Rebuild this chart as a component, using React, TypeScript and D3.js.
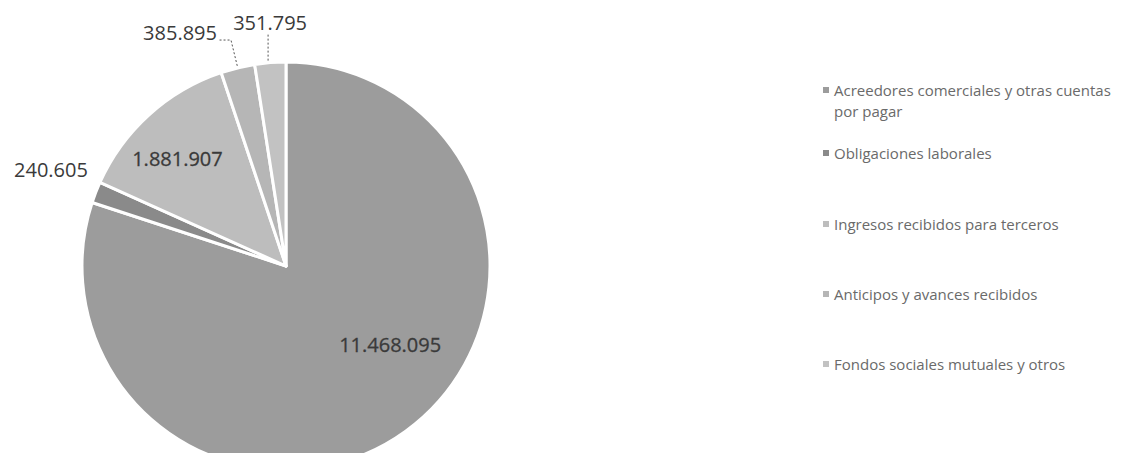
import React from "react";
import * as d3 from "d3";

const categories = [
  "Acreedores comerciales y otras cuentas por pagar",
  "Obligaciones laborales",
  "Ingresos recibidos para terceros",
  "Anticipos y avances recibidos",
  "Fondos sociales mutuales y otros",
];
const legendLines = [
  ["Acreedores comerciales y otras cuentas", "por pagar"],
  ["Obligaciones laborales"],
  ["Ingresos recibidos para terceros"],
  ["Anticipos y avances recibidos"],
  ["Fondos sociales mutuales y otros"],
];
const values = [11468095, 240605, 1881907, 385895, 351795];
const valueLabels = ["11.468.095", "240.605", "1.881.907", "385.895", "351.795"];
const colors = ["#9c9c9c", "#8a8a8a", "#bdbdbd", "#b6b6b6", "#c2c2c2"];

// label placement: kind, radius factor, angle shift (deg)
const labelPlacement = [
  { kind: "inside", r: 0.64, da: -17 },
  { kind: "outsideLeft", r: 1.2, da: 2 },
  { kind: "inside", r: 0.75, da: -3 },
  { kind: "leaderLeft", r: 1.14, da: 0 },
  { kind: "leaderUp", r: 1.14, da: 0 },
];

const W = 1130;
const H = 453;
const cx = 286;
const cy = 266;
const R = 204;

function polar(angle: number, r: number): [number, number] {
  return [cx + r * Math.sin(angle), cy - r * Math.cos(angle)];
}

export default function App() {
  const pie = d3.pie<number>().sort(null).value((d) => d);
  const arcs = pie(values);
  const arc = d3.arc<d3.PieArcDatum<number>>().innerRadius(0).outerRadius(R);
  const fmtFont = "'Open Sans', 'DejaVu Sans', sans-serif";

  return (
    <svg
      width={W}
      height={H}
      style={{ position: "absolute", left: 0, top: 0, background: "#fff" }}
      fontFamily={fmtFont}
    >
      <g>
        {arcs.map((a, i) => (
          <path
            key={i}
            d={arc(a) || ""}
            transform={`translate(${cx},${cy})`}
            fill={colors[i]}
            stroke="#ffffff"
            strokeWidth={3}
            strokeLinejoin="round"
          />
        ))}
      </g>
      <g>
        {arcs.map((a, i) => {
          const p = labelPlacement[i];
          const mid = (a.startAngle + a.endAngle) / 2;
          const ang = mid + (p.da * Math.PI) / 180;
          if (p.kind === "inside") {
            const [x, y] = polar(ang, p.r * R);
            return (
              <text
                key={i}
                x={x}
                y={y}
                textAnchor="middle"
                dominantBaseline="central"
                fontSize={20}
                fill="#3a3a3a"
                stroke="#3a3a3a"
                strokeWidth={0.3}
              >
                {valueLabels[i]}
              </text>
            );
          }
          if (p.kind === "outsideLeft") {
            const [x, y] = polar(ang, p.r * R);
            return (
              <text
                key={i}
                x={x + 27}
                y={y}
                textAnchor="end"
                dominantBaseline="central"
                fontSize={20}
                fill="#3a3a3a"
              >
                {valueLabels[i]}
              </text>
            );
          }
          const [x0, y0] = polar(mid, R + 2);
          const [x1, y1] = polar(mid, p.r * R);
          if (p.kind === "leaderLeft") {
            const x2 = x1 - 12;
            return (
              <g key={i}>
                <polyline
                  points={`${x0},${y0} ${x1},${y1} ${x2},${y1}`}
                  fill="none"
                  stroke="#555"
                  strokeWidth={1}
                  strokeDasharray="2,2"
                />
                <text
                  x={x2 - 2}
                  y={y1 - 8}
                  textAnchor="end"
                  dominantBaseline="central"
                  fontSize={20}
                  fill="#3a3a3a"
                >
                  {valueLabels[i]}
                </text>
              </g>
            );
          }
          return (
            <g key={i}>
              <line
                x1={x1}
                y1={y0}
                x2={x1}
                y2={y1}
                stroke="#555"
                strokeWidth={1}
                strokeDasharray="2,2"
              />
              <text
                x={x1 + 2}
                y={y1 - 12}
                textAnchor="middle"
                dominantBaseline="central"
                fontSize={20}
                fill="#3a3a3a"
              >
                {valueLabels[i]}
              </text>
            </g>
          );
        })}
      </g>
      <g>
        {categories.map((c, i) => {
          const ys = [90, 153, 224, 294, 364];
          const y = ys[i];
          return (
            <g key={c}>
              <rect x={823} y={y - 3} width={6} height={6} fill={colors[i]} />
              {legendLines[i].map((ln, j) => (
                <text
                  key={j}
                  x={834}
                  y={y + j * 21}
                  dominantBaseline="central"
                  fontSize={15}
                  fill="#6a6a6a"
                >
                  {ln}
                </text>
              ))}
            </g>
          );
        })}
      </g>
    </svg>
  );
}
